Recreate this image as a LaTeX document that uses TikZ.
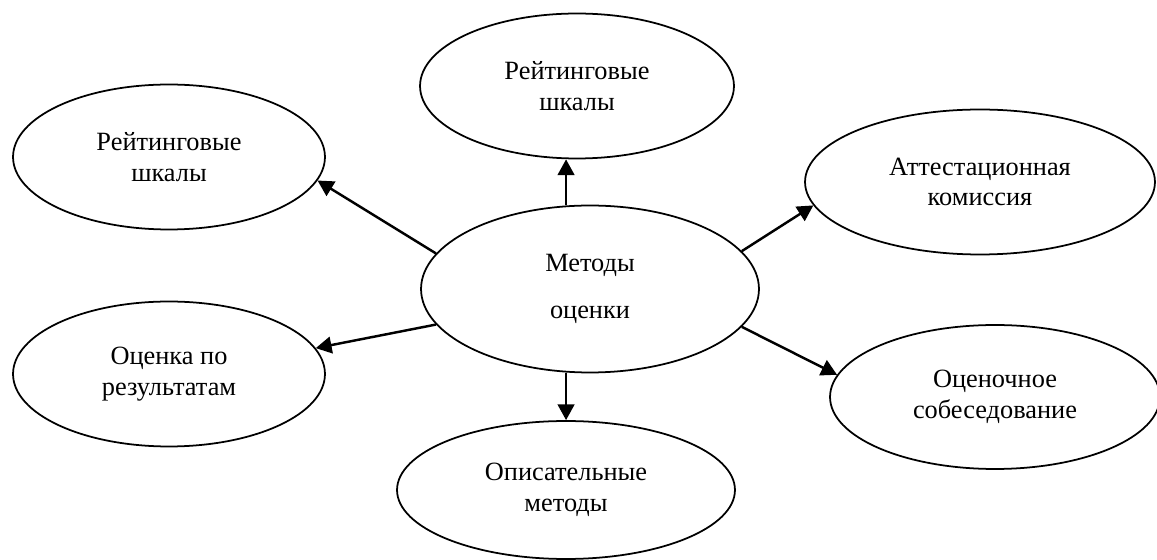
\documentclass[tikz,border=0pt]{standalone}
\usepackage{fontspec}
\setmainfont{Liberation Serif}
\usepackage{tikz}
\usetikzlibrary{shapes.geometric,arrows.meta}

\begin{document}
\begin{tikzpicture}[x=0.02cm,y=-0.02cm,
        oval/.style={draw,ellipse,line width=1pt,inner sep=0pt,align=center,
            font=\fontsize{15}{17.5}\selectfont},
        link/.style={-{Triangle[length=9pt,width=9.5pt]},line width=1.4pt}]
        \useasboundingbox (0,0) rectangle (1157,560); % page size

        % centre
        \node[oval,minimum width=6.76cm,minimum height=3.34cm,
            font=\fontsize{15}{27}\selectfont] (metody) at (590,289) {Методы\\оценки};

        % the six methods round it
        \node[oval,minimum width=6.28cm,minimum height=2.9cm] (shkalyTop) at (577,86) {Рейтинговые\\шкалы};
        \node[oval,minimum width=6.24cm,minimum height=2.9cm] (shkalyLeft) at (169,157) {Рейтинговые\\шкалы};
        \node[oval,minimum width=7cm,minimum height=2.9cm] (attest) at (980,182) {Аттестационная\\комиссия};
        \node[oval,minimum width=6.24cm,minimum height=2.9cm] (rezult) at (169,374) {Оценка по\\результатам};
        \node[oval,minimum width=6.6cm,minimum height=2.88cm] (sobesed) at (995,397) {Оценочное\\собеседование};
        \node[oval,minimum width=6.76cm,minimum height=2.76cm] (opis) at (566,490) {Описательные\\методы};

        \draw[link] (metody.106) -- (metody.106 |- shkalyTop.south);
        \draw[link] (metody.167) -- (shkalyLeft.-9);
        \draw[link] (metody.14) -- (attest.188);
        \draw[link] (metody.-167) -- (rezult.10);
        \draw[link] (metody.-14) -- (sobesed.172);
        \draw[link] (metody.-106) -- (metody.-106 |- opis.north);
    \end{tikzpicture}
\end{document}
